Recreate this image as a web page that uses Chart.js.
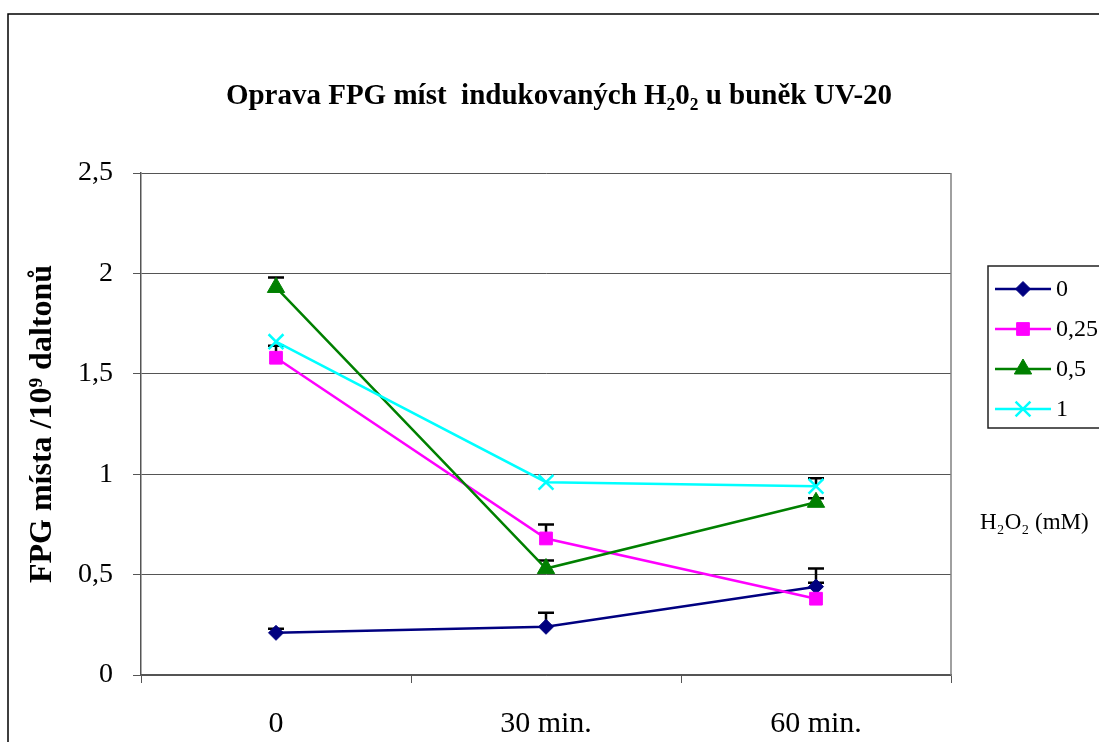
<!DOCTYPE html>
<html>
<head>
<meta charset="utf-8">
<script src="https://cdn.jsdelivr.net/npm/chart.js@4/dist/chart.umd.min.js"></script>
<style>
  body { margin: 0; background: #fff; }
  canvas { display: block; }
</style>
</head>
<body>
<canvas id="fpg-chart" width="1099" height="742"></canvas>
<script>
// Data
const timePoints = ['0', '30 min.', '60 min.'];
const seriesNames = ['0', '0,25', '0,5', '1'];
const fpg0 = [0.21, 0.24, 0.44];
const fpg025 = [1.58, 0.68, 0.38];
const fpg05 = [1.93, 0.53, 0.86];
const fpg1 = [1.66, 0.96, 0.94];
// upper error bars
const err0 = [0.02, 0.07, 0.09];
const err025 = [0.06, 0.07, 0.08];
const err05 = [0.05, 0.04, 0.02];
const err1 = [0, 0, 0.04];
const yTicks = [0, 0.5, 1, 1.5, 2, 2.5];

const serifFont = "'Liberation Serif', 'Times New Roman', serif";
Chart.defaults.font.family = serifFont;
Chart.defaults.color = '#000';

const seriesStyles = [
    { color: '#000080', pointStyle: 'rectRot', radius: 7.5, pointBorderWidth: 1 },
    { color: '#ff00ff', pointStyle: 'rect', radius: 9, pointBorderWidth: 1 },
    { color: '#008000', pointStyle: 'triangle', radius: 10, pointBorderWidth: 1 },
    { color: '#00ffff', pointStyle: 'crossRot', radius: 10.5, pointBorderWidth: 2.5 }
];
const seriesValues = [fpg0, fpg025, fpg05, fpg1];
const seriesErrors = [err0, err025, err05, err1];

const datasets = seriesValues.map((vals, i) => ({
    label: seriesNames[i],
    data: vals,
    errors: seriesErrors[i],
    borderColor: seriesStyles[i].color,
    backgroundColor: seriesStyles[i].color,
    pointBackgroundColor: seriesStyles[i].color,
    pointBorderColor: seriesStyles[i].color,
    pointStyle: seriesStyles[i].pointStyle,
    pointRadius: seriesStyles[i].radius,
    pointBorderWidth: seriesStyles[i].pointBorderWidth,
    borderWidth: 2.5,
    tension: 0,
    fill: false,
    order: 3 - i
}));

// Upward error bars, drawn under the markers
const errorBarPlugin = {
    id: 'errorBars',
    beforeDatasetsDraw(chart) {
        const ctx = chart.ctx;
        const yScale = chart.scales.y;
        const xScale = chart.scales.x;
        ctx.save();
        ctx.strokeStyle = '#000';
        ctx.lineWidth = 2.5;
        chart.data.datasets.forEach(ds => {
            ds.data.forEach((v, j) => {
                const e = ds.errors[j];
                if (!e) return;
                const x = xScale.getPixelForValue(j);
                const y0 = yScale.getPixelForValue(v);
                const y1 = yScale.getPixelForValue(v + e);
                ctx.beginPath();
                ctx.moveTo(x, y0);
                ctx.lineTo(x, y1);
                ctx.moveTo(x - 8, y1);
                ctx.lineTo(x + 8, y1);
                ctx.stroke();
            });
        });
        ctx.restore();
    }
};

// Plot border, outer frame, legend box and unit label
const decorPlugin = {
    id: 'decor',
    afterDraw(chart) {
        const ctx = chart.ctx;
        const area = chart.chartArea;
        ctx.save();

        // right edge of the plot area
        ctx.strokeStyle = '#808080';
        ctx.lineWidth = 1.5;
        ctx.beginPath();
        ctx.moveTo(area.right, area.top);
        ctx.lineTo(area.right, area.bottom);
        ctx.stroke();

        // outer frame
        ctx.strokeStyle = '#000';
        ctx.lineWidth = 1.5;
        ctx.beginPath();
        ctx.moveTo(8, chart.height);
        ctx.lineTo(8, 14);
        ctx.lineTo(chart.width, 14);
        ctx.stroke();

        // legend
        const lx = 988, ly = 266, lh = 162;
        ctx.strokeStyle = '#222';
        ctx.lineWidth = 1.5;
        ctx.strokeRect(lx, ly, 200, lh);
        const rowY = [289, 329, 369, 409];
        chart.data.datasets.forEach((ds, i) => {
            const y = rowY[i];
            const st = seriesStyles[i];
            ctx.strokeStyle = st.color;
            ctx.fillStyle = st.color;
            ctx.lineWidth = 2.5;
            ctx.beginPath();
            ctx.moveTo(995, y);
            ctx.lineTo(1051, y);
            ctx.stroke();
            ctx.lineWidth = st.pointBorderWidth;
            Chart.helpers.drawPoint(ctx, {
                pointStyle: st.pointStyle,
                radius: st.radius,
                rotation: 0,
                borderWidth: st.pointBorderWidth
            }, 1023, y);
            ctx.fillStyle = '#000';
            ctx.font = '24px ' + serifFont;
            ctx.textAlign = 'left';
            ctx.textBaseline = 'middle';
            ctx.fillText(ds.label, 1056, y + 1);
        });

        // unit label
        ctx.fillStyle = '#000';
        ctx.font = '23px ' + serifFont;
        ctx.textAlign = 'left';
        ctx.textBaseline = 'middle';
        ctx.fillText('H₂O₂ (mM)', 980, 523);

        ctx.restore();
    }
};

new Chart(document.getElementById('fpg-chart'), {
    type: 'line',
    data: { labels: timePoints, datasets: datasets },
    options: {
        responsive: false,
        animation: false,
        devicePixelRatio: 1,
        layout: { padding: { left: 19, right: 0, top: 0, bottom: 0 } },
        plugins: {
            legend: { display: false },
            tooltip: { enabled: false },
            title: {
                display: true,
                text: 'Oprava FPG míst  indukovaných H₂0₂ u buněk UV-20',
                font: { size: 29, weight: 'bold' },
                color: '#000',
                padding: { top: 79, bottom: 59.2 }
            }
        },
        scales: {
            x: {
                type: 'category',
                offset: true,
                grid: {
                    offset: true,
                    drawOnChartArea: false,
                    drawTicks: true,
                    tickLength: 8,
                    color: '#555'
                },
                border: { display: true, color: '#555', width: 1.5 },
                ticks: { font: { size: 30 }, padding: 23, color: '#000' },
                afterFit(scale) { scale.height = 67; }
            },
            y: {
                min: 0,
                max: 2.5,
                afterBuildTicks(scale) {
                    scale.ticks = yTicks.map(v => ({ value: v }));
                },
                grid: { color: '#555', lineWidth: 1, tickLength: 8 },
                border: { display: true, color: '#555', width: 1.5 },
                ticks: {
                    font: { size: 28 },
                    padding: 20,
                    color: '#000',
                    callback: v => String(v).replace('.', ',')
                },
                title: {
                    display: true,
                    text: 'FPG místa /10⁹ daltonů',
                    font: { size: 32, weight: 'bold' },
                    color: '#000',
                    padding: { top: 5, bottom: 0 }
                },
                afterFit(scale) { scale.width = 122; }
            },
            yRight: {
                position: 'right',
                display: true,
                grid: { display: false },
                border: { display: false },
                ticks: { display: false },
                afterFit(scale) { scale.width = 148; }
            }
        }
    },
    plugins: [errorBarPlugin, decorPlugin]
});
</script>
</body>
</html>
